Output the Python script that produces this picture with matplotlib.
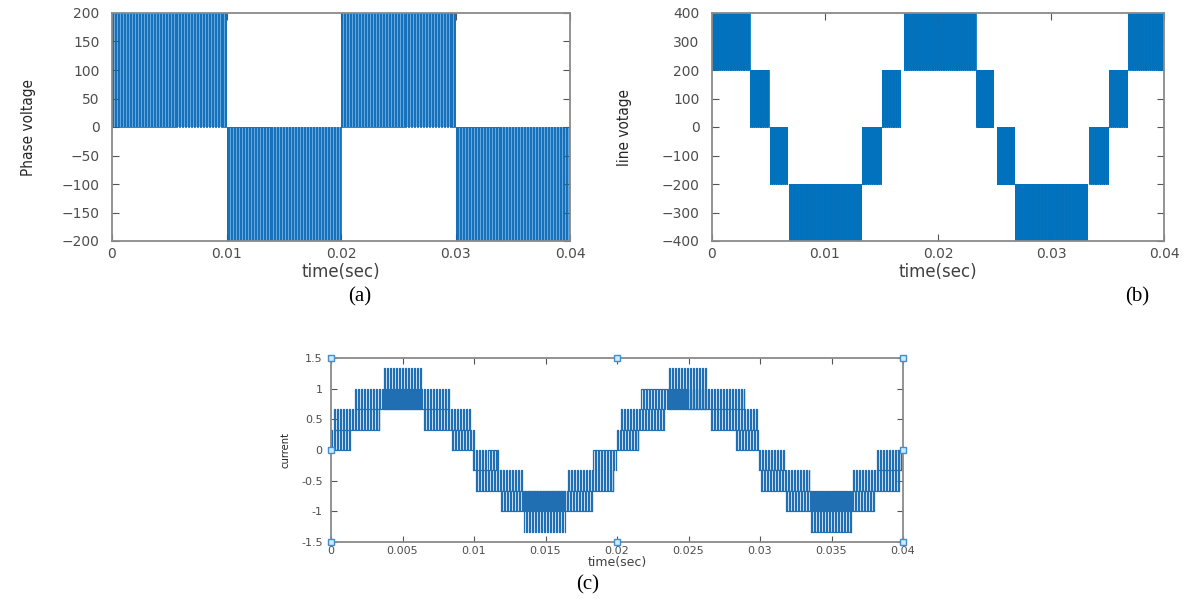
import numpy as np
import matplotlib.pyplot as plt
from matplotlib.patches import Rectangle

# (a) phase voltage: chopped between the two levels in every half cycle
phase_start = [0.0, 0.01, 0.02, 0.03]
phase_end = [0.01, 0.02, 0.03, 0.04]
phase_low = [0, -200, 0, -200]
phase_high = [200, 0, 200, 0]

# (b) line voltage: stepped envelope, chopped between neighbouring levels
line_start = [0.0, 0.00333, 0.0051, 0.0068, 0.01327, 0.0150, 0.01695,
              0.0234, 0.0252, 0.0268, 0.0334, 0.0351, 0.0368]
line_end = [0.00333, 0.00503, 0.0067, 0.0132, 0.0150, 0.0167, 0.02335,
            0.0249, 0.0267, 0.0332, 0.0351, 0.0367, 0.040]
line_low = [200, 0, -200, -400, -200, 0, 200, 0, -200, -400, -200, 0, 200]
line_high = [400, 200, 0, -200, 0, 200, 400, 200, 0, -200, 0, 200, 400]

# (c) current: overlapping chopped bands at multiples of 1/3
cur_start = [0.0, 0.0002, 0.00167, 0.00372, 0.0065, 0.00846,
             0.00995, 0.01015, 0.0119, 0.01352, 0.01659, 0.01835,
             0.0200, 0.02028, 0.02171, 0.02361, 0.02654, 0.02829,
             0.0299, 0.03005, 0.0318, 0.03356, 0.03649, 0.03815]
cur_end = [0.00138, 0.00336, 0.00825, 0.00626, 0.0097, 0.0100,
           0.0117, 0.01337, 0.01835, 0.01644, 0.01975, 0.0200,
           0.02148, 0.02332, 0.02888, 0.02633, 0.02976, 0.0299,
           0.03166, 0.03342, 0.03795, 0.03634, 0.03971, 0.03985]
cur_low = [0, 0.333, 0.667, 0.667, 0.333, 0,
           -0.333, -0.667, -1, -1.333, -0.667, -0.333,
           0, 0.333, 0.667, 0.667, 0.333, 0,
           -0.333, -0.667, -1, -1.333, -0.667, -0.333]
cur_high = [0.333, 0.667, 1, 1.333, 0.667, 0.333,
            0, -0.333, -0.667, -0.667, -0.333, 0,
            0.333, 0.667, 1, 1.333, 0.667, 0.333,
            0, -0.333, -0.667, -0.667, -0.333, 0]

# switching periods (s) read from the stripe spacing
period_a = 0.00026
period_b = 0.00005
period_c = 0.00021

# matlab selection handles on plot (c)
handle_t = [0, 0.02, 0.04, 0, 0.04, 0, 0.02, 0.04]
handle_y = [1.5, 1.5, 1.5, 0, 0, -1.5, -1.5, -1.5]

BLUE = '#0072BD'
narrow = dict(family=['Liberation Sans Narrow', 'DejaVu Sans'], stretch='condensed')


def chop(ax, t0, t1, lo, hi, period, duty, lw, fill=None, color=BLUE):
    s = np.arange(t0, t1, period)
    e = np.minimum(s + duty * period, t1)
    t = np.column_stack([s, s, e, e]).ravel()
    y = np.tile([lo, hi, hi, lo], len(s))
    if fill is not None:
        ax.add_patch(Rectangle((t0, lo), t1 - t0, hi - lo, facecolor=fill,
                               edgecolor='none', zorder=1.5))
    ax.plot(t, y, color=color, lw=lw, zorder=2)


def style(ax, fs):
    for sp in ax.spines.values():
        sp.set_color('#8a8a8a')
        sp.set_linewidth(1.3)
    ax.tick_params(direction='in', top=True, right=True, length=5, width=0.8,
                   color='#555555', labelcolor='#4d4d4d', labelsize=fs)


fig = plt.figure(figsize=(11.93, 6.02), dpi=100)

# ---- (a)
ax1 = fig.add_axes([112 / 1193, 1 - 241 / 602, 458 / 1193, 228 / 602])
for t0, t1, lo, hi in zip(phase_start, phase_end, phase_low, phase_high):
    chop(ax1, t0, t1, lo, hi, period_a, 0.45, 0.6, fill='#62a9e2', color='#0a66b0')
ax1.set_xlim(0, 0.04)
ax1.set_ylim(-200, 200)
ax1.set_xticks([0, 0.01, 0.02, 0.03, 0.04], ['0', '0.01', '0.02', '0.03', '0.04'])
ax1.set_yticks(np.arange(-200, 201, 50))
style(ax1, 10)
ax1.tick_params(axis='x', pad=4)
ax1.tick_params(axis='y', pad=9)
ax1.set_xlabel('time(sec)', fontsize=12, color='#404040')
ax1.xaxis.set_label_coords(0.5, -0.095)
ax1.set_ylabel('Phase voltage', fontsize=11, color='#262626', **narrow)
ax1.yaxis.set_label_coords(-0.165, 0.5)

# ---- (b)
ax2 = fig.add_axes([712 / 1193, 1 - 241 / 602, 452 / 1193, 228 / 602])
for t0, t1, lo, hi in zip(line_start, line_end, line_low, line_high):
    chop(ax2, t0, t1, lo, hi, period_b, 0.5, 0.6, fill='#1a74c0')
ax2.set_xlim(0, 0.04)
ax2.set_ylim(-400, 400)
ax2.set_xticks([0, 0.01, 0.02, 0.03, 0.04], ['0', '0.01', '0.02', '0.03', '0.04'])
ax2.set_yticks(np.arange(-400, 401, 100))
style(ax2, 10)
ax2.tick_params(axis='x', pad=4)
ax2.tick_params(axis='y', pad=9)
ax2.set_xlabel('time(sec)', fontsize=12, color='#404040')
ax2.xaxis.set_label_coords(0.5, -0.095)
ax2.set_ylabel('line votage', fontsize=11, color='#262626', **narrow)
ax2.yaxis.set_label_coords(-0.177, 0.5)

# ---- (c)
ax3 = fig.add_axes([331 / 1193, 1 - 542 / 602, 572 / 1193, 184 / 602])
for t0, t1, lo, hi in zip(cur_start, cur_end, cur_low, cur_high):
    chop(ax3, t0, t1, lo, hi, period_c, 0.4, 0.9, color='#1f6fb2')
ax3.plot(handle_t, handle_y, 's', ms=4.5, mfc='#d4e9f8', mec='#3d8fd1', mew=1,
         clip_on=False, zorder=5)
ax3.set_xlim(0, 0.04)
ax3.set_ylim(-1.5, 1.5)
xt = [0, 0.005, 0.01, 0.015, 0.02, 0.025, 0.03, 0.035, 0.04]
ax3.set_xticks(xt, ['0' if v == 0 else f'{v:g}' for v in xt])
ax3.set_yticks([-1.5, -1, -0.5, 0, 0.5, 1, 1.5],
               ['-1.5', '-1', '-0.5', '0', '0.5', '1', '1.5'])
style(ax3, 8)
ax3.tick_params(length=4, pad=3)
ax3.tick_params(axis='y', pad=6)
ax3.set_xlabel('time(sec)', fontsize=9, color='#404040')
ax3.xaxis.set_label_coords(0.5, -0.075)
ax3.set_ylabel('current', fontsize=8, color='#262626', **narrow)
ax3.yaxis.set_label_coords(-0.07, 0.5)

# panel captions
serif = ['Liberation Serif', 'DejaVu Serif']
fig.text(360 / 1193, 1 - 297 / 602, '(a)', fontsize=15, family=serif,
         ha='center', va='center')
fig.text(1137 / 1193, 1 - 297 / 602, '(b)', fontsize=15, family=serif,
         ha='center', va='center')
fig.text(588 / 1193, 1 - 585 / 602, '(c)', fontsize=15, family=serif,
         ha='center', va='center')

fig.savefig('out.png', dpi=100)
